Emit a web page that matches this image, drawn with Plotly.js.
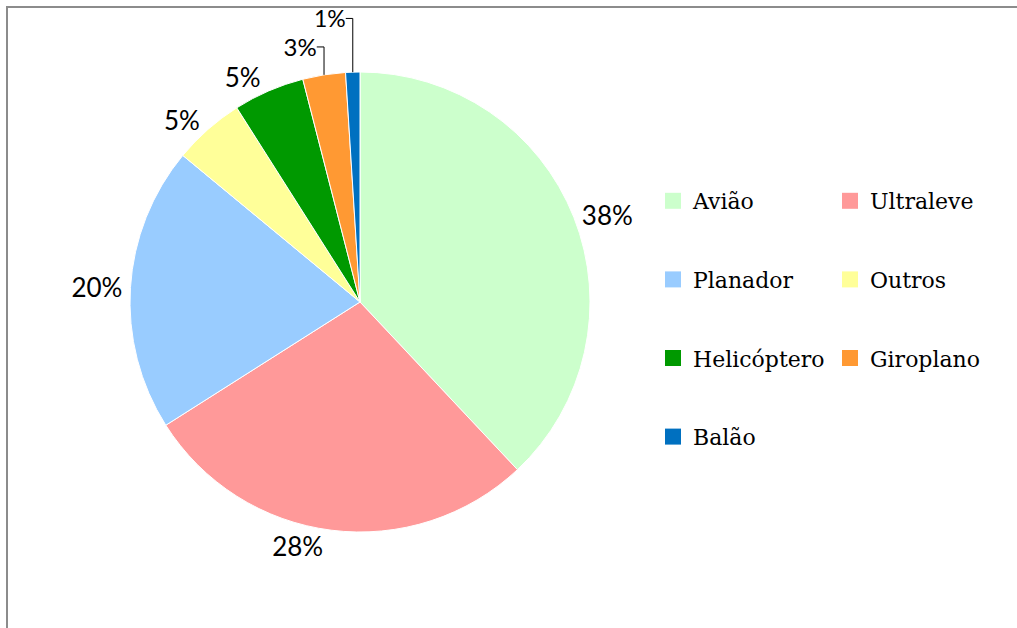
<!DOCTYPE html>
<html>
<head>
<meta charset="utf-8">
<script src="https://cdn.plot.ly/plotly-3.0.1.min.js"></script>
<style>
  html, body { margin: 0; padding: 0; background: #fff; }
  #chart { width: 1017px; height: 628px; }
</style>
</head>
<body>
<div id="chart"></div>
<script>
/*
! Aircraft types pie
*/
var categories = ['Avião', 'Ultraleve', 'Planador', 'Outros', 'Helicóptero', 'Giroplano', 'Balão'];
var shares = [38, 28, 20, 5, 5, 3, 1];
var sliceColors = ['#CCFFCC', '#FF9999', '#99CCFF', '#FFFF99', '#009900', '#FF9933', '#0070C0'];

var W = 1017, H = 628;

var pie = {
  type: 'pie',
  labels: categories,
  values: shares,
  sort: false,
  direction: 'clockwise',
  rotation: 0,
  marker: { colors: sliceColors, line: { color: '#ffffff', width: 1 } },
  textinfo: 'percent',
  texttemplate: '%{percent:.0%}',
  textposition: 'outside',
  // the two thin slices get a slightly smaller label so the stacked ones stay on the page
  outsidetextfont: { family: 'Lato, sans-serif', size: [26, 26, 26, 26, 26, 24, 23], color: '#000' },
  domain: { x: [130 / W, 590 / W], y: [1 - 532 / H, 1 - 72 / H] },
  showlegend: false,
  hoverinfo: 'label+percent'
};

// legend entries, two columns, same names and colours as the slices
var keys = categories.map(function (name, i) {
  return {
    type: 'scatter',
    mode: 'markers',
    x: [null],
    y: [null],
    name: name,
    legend: i % 2 === 0 ? 'legend' : 'legend2',
    legendgroup: 'g' + i,
    marker: { symbol: 'square', size: 16, color: sliceColors[i] },
    hoverinfo: 'skip'
  };
});

var legendStyle = {
  orientation: 'v',
  yanchor: 'top',
  xanchor: 'left',
  y: 1 - 180 / H,
  tracegroupgap: 47,
  bgcolor: 'rgba(0,0,0,0)',
  font: { family: 'DejaVu Serif, serif', size: 22, color: '#000' }
};

var layout = {
  width: W,
  height: H,
  margin: { l: 0, r: 0, t: 0, b: 0 },
  paper_bgcolor: '#fff',
  plot_bgcolor: '#fff',
  xaxis: { visible: false },
  yaxis: { visible: false },
  showlegend: true,
  legend: Object.assign({}, legendStyle, { x: 653 / W }),
  legend2: Object.assign({}, legendStyle, { x: 830 / W }),
  shapes: [{
    type: 'rect', xref: 'paper', yref: 'paper',
    x0: 7 / W, x1: 1.05, y0: -0.05, y1: 1 - 7 / H,
    line: { color: '#8c8c8c', width: 2 }
  }]
};

Plotly.newPlot('chart', [pie].concat(keys), layout, { displayModeBar: false, staticPlot: true });
</script>
</body>
</html>
